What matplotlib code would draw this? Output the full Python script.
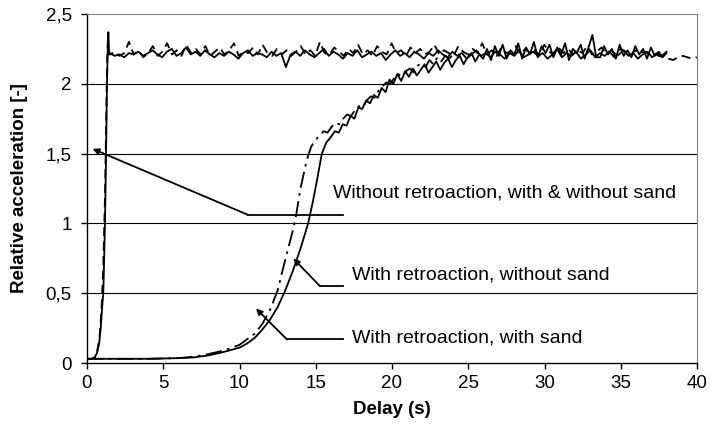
import matplotlib
matplotlib.use('Agg')
import matplotlib.pyplot as plt
import numpy as np

plt.rcParams['font.family'] = ['Liberation Sans', 'DejaVu Sans']

# without retroaction: start-up (shared x for both series)
rise_x = [0.0, 0.3, 0.5, 0.65, 0.8, 0.9, 0.98, 1.07, 1.18, 1.25, 1.31, 1.36, 1.4, 1.45]
rise_nosand = [0.03, 0.03, 0.04, 0.07, 0.14, 0.25, 0.38, 0.5, 1.0, 1.5, 2.0, 2.25, 2.37, 2.22]
rise_sand = [0.03, 0.03, 0.04, 0.08, 0.16, 0.3, 0.45, 0.7, 1.2, 1.7, 2.1, 2.3, 2.25, 2.21]

# without retroaction, without sand: plateau 1.5 -> 38 s
plateau_nosand = [
    2.22, 2.20, 2.21, 2.19, 2.22, 2.21, 2.23, 2.20, 2.22, 2.24,
    2.21, 2.19, 2.23, 2.25, 2.20, 2.22, 2.26, 2.21, 2.23, 2.20,
    2.24, 2.21, 2.19, 2.22, 2.20, 2.23, 2.21, 2.18, 2.22, 2.24,
    2.20, 2.22, 2.21, 2.19, 2.23, 2.20, 2.22, 2.12, 2.21, 2.23,
    2.20, 2.24, 2.21, 2.19, 2.22, 2.25, 2.20, 2.23, 2.21, 2.18,
    2.22, 2.20, 2.24, 2.19, 2.21, 2.23, 2.20, 2.22, 2.17, 2.21,
    2.24, 2.20, 2.22, 2.19, 2.23, 2.21, 2.18, 2.22, 2.20, 2.24,
    2.21, 2.19, 2.23, 2.20, 2.22, 2.18, 2.21, 2.24, 2.20, 2.22,
    2.19, 2.23, 2.21, 2.18, 2.22, 2.20, 2.24, 2.19, 2.21, 2.23,
    2.20, 2.22, 2.18, 2.21, 2.25, 2.19, 2.22, 2.20, 2.23, 2.18,
    2.21, 2.24, 2.19, 2.22, 2.20, 2.23, 2.19, 2.21, 2.24, 2.20,
    2.22, 2.18, 2.21, 2.23, 2.19, 2.22, 2.20, 2.23]

# without retroaction, with sand: plateau 1.5 -> 40 s
plateau_sand = [
    2.21, 2.23, 2.20, 2.22, 2.30, 2.21, 2.24, 2.19, 2.22, 2.27,
    2.20, 2.23, 2.29, 2.21, 2.24, 2.20, 2.28, 2.22, 2.25, 2.21,
    2.27, 2.20, 2.23, 2.26, 2.21, 2.24, 2.29, 2.20, 2.23, 2.22,
    2.26, 2.21, 2.28, 2.22, 2.20, 2.25, 2.21, 2.24, 2.20, 2.23,
    2.27, 2.21, 2.24, 2.20, 2.30, 2.22, 2.21, 2.26, 2.23, 2.20,
    2.25, 2.22, 2.28, 2.21, 2.24, 2.20, 2.27, 2.23, 2.21, 2.29,
    2.22, 2.24, 2.20, 2.26, 2.22, 2.25, 2.21, 2.23, 2.28, 2.21,
    2.24, 2.22, 2.20, 2.27, 2.23, 2.21, 2.25, 2.22, 2.29, 2.21,
    2.24, 2.20, 2.26, 2.22, 2.23, 2.27, 2.21, 2.25, 2.22, 2.24,
    2.20, 2.28, 2.23, 2.21, 2.26, 2.22, 2.25, 2.21, 2.24, 2.22,
    2.27, 2.21, 2.23, 2.26, 2.22, 2.24, 2.21, 2.25, 2.23, 2.20,
    2.24, 2.22, 2.23, 2.21, 2.22, 2.20, 2.19, 2.18, 2.17, 2.19,
    2.20, 2.19, 2.18, 2.19]

# with retroaction, without sand
retro_x = [0, 2, 4, 6, 7, 8, 9, 10, 10.5, 11, 11.5, 12, 12.5, 13, 13.5, 14,
           14.5, 14.8, 15.1, 15.4, 15.7]
retro_nosand = [0.03, 0.03, 0.03, 0.035, 0.04, 0.055, 0.08, 0.11, 0.14, 0.18, 0.24,
                0.31, 0.40, 0.52, 0.66, 0.82, 1.0, 1.15, 1.32, 1.5, 1.58]
tail_nosand = [
    1.62, 1.66, 1.65, 1.71, 1.70, 1.77, 1.75, 1.83, 1.82,
    1.88, 1.86, 1.92, 1.90, 1.97, 1.94, 2.03, 2.00,
    2.07, 2.02, 2.09, 2.05, 2.11, 2.06, 2.10,
    2.14, 2.08, 2.12, 2.16, 2.10, 2.15, 2.18, 2.12, 2.17, 2.20, 2.14, 2.19, 2.22, 2.16, 2.21, 2.18,
    2.25, 2.17, 2.27, 2.20, 2.28, 2.18, 2.24, 2.21, 2.29, 2.18,
    2.26, 2.21, 2.30, 2.19, 2.27, 2.22, 2.28, 2.19, 2.26, 2.21,
    2.29, 2.17, 2.25, 2.22, 2.28, 2.18, 2.26, 2.35, 2.19, 2.19,
    2.27, 2.21, 2.25, 2.18, 2.28, 2.20, 2.24, 2.19, 2.27, 2.21,
    2.25, 2.18, 2.26, 2.20, 2.23, 2.19, 2.22]

# with retroaction, with sand
retro_sand_x = [0, 2, 4, 6, 7, 8, 9, 10, 10.5, 11, 11.5, 12, 12.5, 13, 13.5, 13.7,
                14, 14.4, 14.7]
retro_sand = [0.03, 0.03, 0.03, 0.035, 0.045, 0.065, 0.09, 0.13, 0.17, 0.21, 0.28,
              0.38, 0.52, 0.74, 0.95, 1.05, 1.25, 1.45, 1.55]
tail_sand = [
    1.60, 1.63, 1.66, 1.65, 1.69, 1.72, 1.71, 1.75, 1.78, 1.77, 1.81, 1.84,
    1.83, 1.88, 1.91, 1.90, 1.95, 1.98, 2.01, 2.00, 2.04, 2.07, 2.05, 2.09,
    2.11, 2.08, 2.13, 2.15, 2.12, 2.17, 2.14, 2.19, 2.16, 2.20, 2.18, 2.21]

x_ticks = [0, 5, 10, 15, 20, 25, 30, 35, 40]
y_ticks = [0, 0.5, 1, 1.5, 2, 2.5]
y_ticklabels = ['0', '0,5', '1', '1,5', '2', '2,5']

fig = plt.figure(figsize=(7.1, 4.28), dpi=100)
ax = fig.add_axes([87/710, 65/428, 610/710, 349/428])

for y in y_ticks[1:-1]:
    ax.axhline(y, color='black', lw=0.8, zorder=1)

lw = 1.3
x_pl = np.linspace(1.5, 38, len(plateau_nosand))
ax.plot(rise_x + list(x_pl), rise_nosand + plateau_nosand, color='black', lw=lw)
x_ps = np.linspace(1.5, 40, len(plateau_sand))
ax.plot(rise_x + list(x_ps), rise_sand + plateau_sand, color='black', lw=lw,
        linestyle=(0, (5, 3)))

x_tn = np.linspace(16, 38, len(tail_nosand))
ax.plot(retro_x + list(x_tn), retro_nosand + tail_nosand, color='black', lw=lw)
x_ts = np.linspace(15, 24, len(tail_sand))
ax.plot(retro_sand_x + list(x_ts), retro_sand + tail_sand, color='black', lw=lw,
        linestyle=(0, (9, 3, 1.5, 3)))

# callouts: (tip, elbow, end of line, text position)
callouts = [
    ((0.37, 1.534), (10.56, 1.061), 16.79, (16.1, 1.215), 'Without retroaction, with & without sand'),
    ((13.53, 0.748), (15.28, 0.55), 16.79, (17.36, 0.63), 'With retroaction, without sand'),
    ((11.08, 0.39), (13.11, 0.169), 16.79, (17.4, 0.176), 'With retroaction, with sand'),
]
for tip, elbow, end, txt_pos, txt in callouts:
    ax.plot([elbow[0], end], [elbow[1], elbow[1]], color='black', lw=1.3)
    ax.annotate('', xy=tip, xytext=elbow,
                arrowprops=dict(arrowstyle='-|>', color='black', lw=1.3,
                                mutation_scale=9, shrinkA=0, shrinkB=0))
    ax.text(txt_pos[0], txt_pos[1], txt, fontsize=14, ha='left', va='center')

ax.set_xlim(0, 40)
ax.set_ylim(0, 2.5)
ax.set_xticks(x_ticks)
ax.set_yticks(y_ticks)
ax.set_yticklabels(y_ticklabels)
ax.tick_params(axis='both', labelsize=13.5, direction='out', length=4, width=1)
ax.tick_params(axis='y', pad=7)
ax.tick_params(axis='x', pad=5)

ax.spines['top'].set_color('#808080')
ax.spines['right'].set_color('#808080')
ax.spines['left'].set_linewidth(1)
ax.spines['bottom'].set_linewidth(1)

fig.text(392/710, 1 - 410/428, 'Delay (s)', fontsize=13.5, fontweight='bold',
         ha='center', va='center')
fig.text(20/710, 1 - 188.5/428, 'Relative acceleration [-]', fontsize=13.5,
         fontweight='bold', rotation=90, ha='center', va='center')

fig.savefig('out.png', dpi=100)
